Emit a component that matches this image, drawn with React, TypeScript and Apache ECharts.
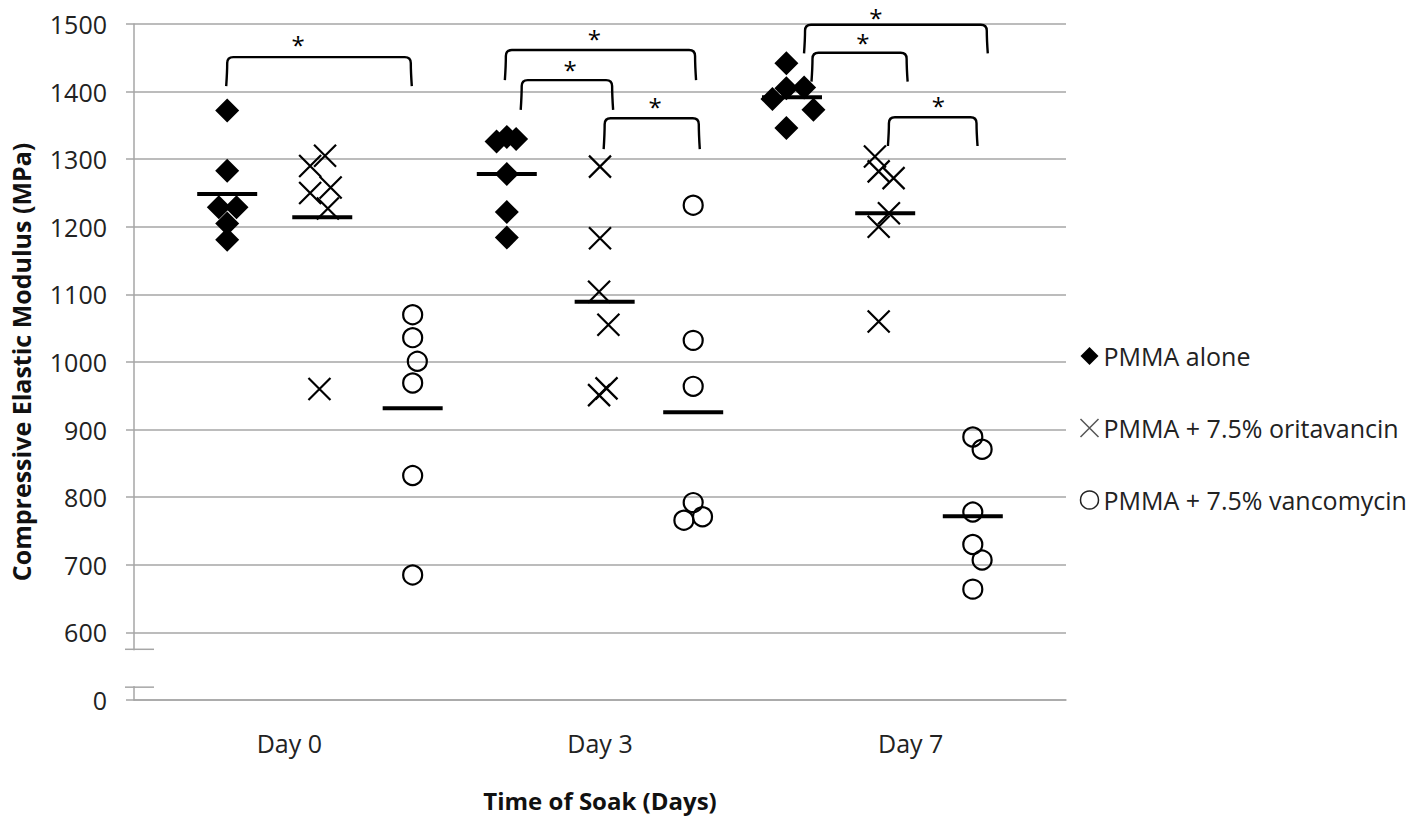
import { useEffect, useRef } from 'react';
import * as echarts from 'echarts';

const dayLabels = ['Day 0', 'Day 3', 'Day 7'];
const seriesNames = ['PMMA alone', 'PMMA + 7.5% oritavancin', 'PMMA + 7.5% vancomycin'];
const yAxisTitle = 'Compressive Elastic Modulus (MPa)';
const xAxisTitle = 'Time of Soak (Days)';

// [horizontal position (group slot), modulus MPa]
const pmmaAlone = [
  [1.0, 1372], [1.0, 1283], [0.91, 1229], [1.1, 1229], [1.0, 1205], [1.0, 1181],
  [3.89, 1326], [4.0, 1333], [4.1, 1330], [4.0, 1278], [4.0, 1222], [4.0, 1184],
  [7.0, 1442], [7.0, 1405], [7.19, 1406], [6.85, 1389], [7.29, 1373], [7.0, 1346],
];
const oritavancin = [
  [1.89, 1290], [2.05, 1305], [1.89, 1250], [2.11, 1258], [2.08, 1227], [1.99, 960],
  [5.0, 1289], [5.0, 1183], [4.99, 1104], [5.09, 1055], [5.07, 961], [4.99, 951],
  [7.95, 1304], [7.99, 1282], [8.15, 1272], [8.1, 1220], [7.99, 1200], [7.99, 1060],
];
const vancomycin = [
  [2.99, 1070], [2.99, 1036], [3.04, 1001], [2.99, 969], [2.99, 832], [2.99, 685],
  [6.0, 1232], [6.0, 1032], [6.0, 964], [6.0, 792], [5.9, 766], [6.1, 771],
  [9.0, 889], [9.1, 871], [9.0, 778], [9.0, 730], [9.1, 707], [9.0, 664],
];
// group means (horizontal bars)
const means = [
  [1.0, 1248.5], [2.02, 1214], [2.99, 931.5],
  [4.0, 1278], [5.05, 1089], [6.0, 925.6],
  [7.06, 1391.6], [8.06, 1220], [9.0, 772],
];
// significance brackets: [xLeft, xRight, yTop, yLegEnd, starX, starY]
const brackets = [
  [1.0, 2.97, 1451, 1408, 1.76, 1478],
  [3.99, 6.02, 1461.5, 1417, 4.94, 1487],
  [4.16, 5.13, 1417, 1373, 4.68, 1442],
  [5.05, 6.06, 1360.5, 1315, 5.59, 1386.5],
  [7.2, 9.15, 1499, 1456.6, 7.96, 1519],
  [7.28, 8.29, 1457.5, 1414.7, 7.82, 1482],
  [8.1, 9.04, 1362, 1319.5, 8.63, 1387.6],
];
// axis break marks (value range shown as broken), at x = 0
const axisBreak = [[0, 575, 519]];

const X_PATH = 'path://M0,0L20,20M20,0L0,20';
const FONT = 'Open Sans';
const GRID_COLOR = '#a6a6a6';

export default function App() {
  const ref = useRef<HTMLDivElement>(null);
  useEffect(() => {
    if (!ref.current) return;
    const chart = echarts.init(ref.current, undefined, { renderer: 'svg' });
    chart.setOption({
      animation: false,
      backgroundColor: '#fff',
      textStyle: { fontFamily: FONT },
      grid: { left: 124, right: 352, top: 24, bottom: 105, containLabel: false },
      legend: {
        orient: 'vertical',
        left: 1078,
        top: 341,
        padding: 0,
        itemWidth: 18,
        itemHeight: 18,
        itemGap: 42,
        selectedMode: false,
        textStyle: { fontFamily: FONT, fontSize: 25, color: '#222', lineHeight: 30 },
        data: [
          { name: seriesNames[0], icon: 'diamond', itemStyle: { color: '#000', borderWidth: 0 } },
          { name: seriesNames[1], icon: X_PATH, itemStyle: { color: 'none', borderColor: '#555', borderWidth: 1.5 } },
          { name: seriesNames[2], icon: 'circle', itemStyle: { color: 'none', borderColor: '#222', borderWidth: 1.5 } },
        ],
      },
      xAxis: [
        { type: 'value', min: 0, max: 10, show: false },
        {
          type: 'category',
          data: dayLabels,
          position: 'bottom',
          boundaryGap: true,
          axisLine: { show: true, lineStyle: { color: GRID_COLOR, width: 1.5 } },
          axisTick: { show: false },
          axisLabel: { fontFamily: FONT, fontSize: 25, color: '#222', margin: 30 },
          name: xAxisTitle,
          nameLocation: 'middle',
          nameGap: 88,
          nameTextStyle: { fontFamily: FONT, fontSize: 24, fontWeight: 'bold', color: '#111' },
        },
      ],
      yAxis: {
        type: 'value',
        min: 500,
        max: 1500,
        interval: 100,
        axisLine: { show: true, lineStyle: { color: GRID_COLOR, width: 1.5 } },
        axisTick: { show: true, inside: false, length: 8, lineStyle: { color: GRID_COLOR, width: 1.5 } },
        splitLine: { show: true, lineStyle: { color: GRID_COLOR, width: 1.5 } },
        axisLabel: {
          fontFamily: FONT,
          fontSize: 25,
          color: '#222',
          margin: 27,
          formatter: (v: number) => (v === 500 ? '0' : String(v)),
        },
        name: yAxisTitle,
        nameLocation: 'middle',
        nameRotate: 90,
        nameGap: 101,
        nameTextStyle: { fontFamily: FONT, fontSize: 25, fontWeight: 'bold', color: '#111' },
      },
      series: [
        {
          name: 'axis-break',
          type: 'custom',
          xAxisIndex: 0,
          clip: false,
          silent: true,
          z: 5,
          data: axisBreak,
          encode: { x: 0, y: [1, 2] },
          renderItem: (_params: any, api: any) => {
            const a = api.coord([api.value(0), api.value(1)]);
            const b = api.coord([api.value(0), api.value(2)]);
            const st = { stroke: GRID_COLOR, lineWidth: 1.5 };
            return {
              type: 'group',
              children: [
                { type: 'rect', shape: { x: a[0] - 4, y: a[1] + 1, width: 8, height: b[1] - a[1] - 2 }, style: { fill: '#fff' } },
                { type: 'line', shape: { x1: a[0] - 9, y1: a[1], x2: a[0] + 20, y2: a[1] }, style: st },
                { type: 'line', shape: { x1: b[0] - 9, y1: b[1], x2: b[0] + 20, y2: b[1] }, style: st },
              ],
            };
          },
        },
        {
          name: seriesNames[0],
          type: 'scatter',
          xAxisIndex: 0,
          data: pmmaAlone,
          symbol: 'diamond',
          symbolSize: 24,
          itemStyle: { color: '#000', opacity: 1 },
        },
        {
          name: seriesNames[1],
          type: 'scatter',
          xAxisIndex: 0,
          data: oritavancin,
          symbol: X_PATH,
          symbolSize: 22,
          itemStyle: { color: 'none', borderColor: '#000', borderWidth: 2.2, opacity: 1 },
        },
        {
          name: seriesNames[2],
          type: 'scatter',
          xAxisIndex: 0,
          data: vancomycin,
          symbol: 'circle',
          symbolSize: 19,
          itemStyle: { color: 'none', borderColor: '#000', borderWidth: 2.2, opacity: 1 },
        },
        {
          name: 'mean',
          type: 'scatter',
          xAxisIndex: 0,
          data: means,
          symbol: 'rect',
          symbolSize: [60, 4],
          z: 4,
          itemStyle: { color: '#000', opacity: 1 },
        },
        {
          name: 'significance',
          type: 'custom',
          xAxisIndex: 0,
          clip: false,
          silent: true,
          data: brackets,
          encode: { x: [0, 1, 4], y: [2, 3, 5] },
          renderItem: (_params: any, api: any) => {
            const l = api.coord([api.value(0), api.value(2)]);
            const r = api.coord([api.value(1), api.value(2)]);
            const yb = api.coord([api.value(0), api.value(3)])[1];
            const s = api.coord([api.value(4), api.value(5)]);
            const rad = 6;
            const yt = l[1];
            const d = `M${l[0] - 1},${yb} Q${l[0]},${yt + (yb - yt) * 0.5} ${l[0]},${yt + rad} Q${l[0]},${yt} ${l[0] + rad},${yt} L${r[0] - rad},${yt} Q${r[0]},${yt} ${r[0]},${yt + rad} Q${r[0]},${yt + (yb - yt) * 0.5} ${r[0] + 1},${yb}`;
            return {
              type: 'group',
              children: [
                { type: 'path', shape: { pathData: d }, style: { fill: 'none', stroke: '#000', lineWidth: 2.4 } },
                {
                  type: 'text',
                  x: s[0],
                  y: s[1] + 6,
                  style: { text: '*', fontFamily: FONT, fontSize: 24, lineHeight: 14, fill: '#000', align: 'center', verticalAlign: 'middle' },
                },
              ],
            };
          },
        },
      ],
    });
    return () => chart.dispose();
  }, []);
  return (
    <div
      ref={ref}
      style={{ position: 'fixed', left: 0, top: 0, width: '1418px', height: '817px', background: '#fff' }}
    />
  );
}
